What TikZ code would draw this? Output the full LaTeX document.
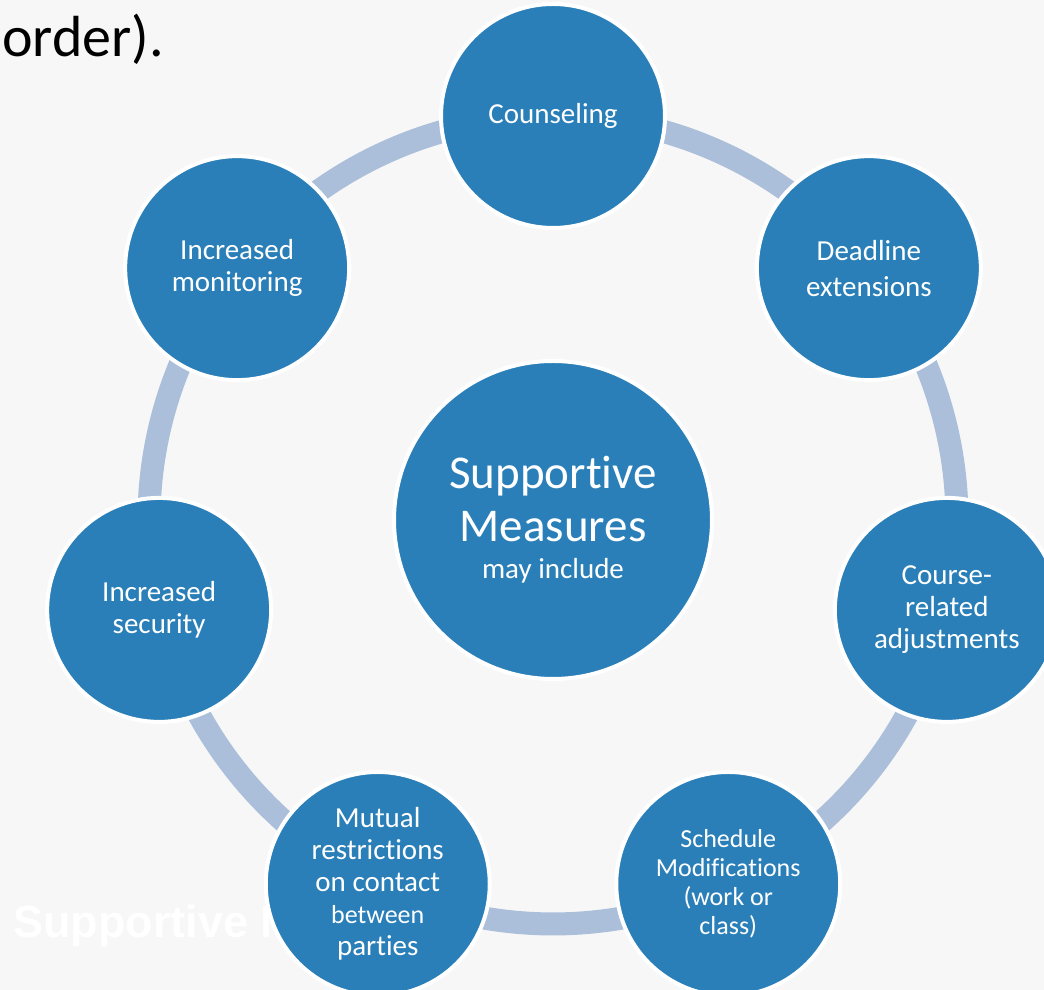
\documentclass[tikz,border=0pt]{standalone}
\usepackage{fontspec}
\setmainfont{Carlito}[Ligatures=NoCommon]
\newfontfamily\ghostfont{Liberation Sans}
\usetikzlibrary{calc}

\definecolor{measureblue}{HTML}{2A7FB8}
\definecolor{ringblue}{HTML}{ABBFDA}
\definecolor{slidegray}{HTML}{F7F7F7}

\newcommand{\smallline}{\fontsize{26}{30}\selectfont}
\newcommand{\nolig}{\kern0pt}

\pgfdeclarelayer{background}
\pgfsetlayers{background,main}

\tikzset{
  measure/.style={circle, fill=measureblue, draw=white, line width=4pt,
    minimum size=224pt, inner sep=0pt, text=white, align=center,
    font=\fontsize{29}{34}\selectfont},
  hub/.style={measure, minimum size=318pt, font=\fontsize{47}{53}\selectfont},
  ring/.style={ringblue, line width=23pt},
}

\begin{document}
\begin{tikzpicture}[x=1pt,y=1pt]
    \useasboundingbox (0,0) rectangle (1044,990);
    \clip (0,0) rectangle (1044,990);

    % slide text left behind the diagram
    \node[anchor=base west, inner sep=0pt, font=\fontsize{58}{60}\selectfont] (ord) at (2,933) {order).};
    \node[anchor=base west, inner sep=0pt, text=white, font=\ghostfont\bfseries\fontsize{45}{50}\selectfont] (ghost) at (13,52) {Supportive Measures};

    % centre
    \node[hub] (hub) at (553,470) {Suppor\nolig tive\\Measures\\[-16pt]\fontsize{29}{33}\selectfont may include};

    % measures round the ring
    \node[measure] (couns) at ($(hub)+(90:404)$) {Counseling};
    \node[measure, font=\fontsize{29}{36}\selectfont] (deadl) at ($(hub)+(38.57:404)$) {Deadline\\extensions};
    \node[measure, font=\fontsize{29}{32}\selectfont] (course) at ($(hub)+(-12.86:404)$) {Course-\\related\\adjustments};
    \node[measure, font=\fontsize{26}{29}\selectfont] (sched) at ($(hub)+(-64.29:404)$) {Schedule\\Modi\nolig f\nolig ications\\(work or\\class)};
    \node[measure, font=\fontsize{29}{32}\selectfont] (mutual) at ($(hub)+(-115.71:404)$) {Mutual\\restrictions\\on contact\\\smallline between\\parties};
    \node[measure, font=\fontsize{29}{32}\selectfont] (secur) at ($(hub)+(-167.14:404)$) {Increased\\security};
    \node[measure, font=\fontsize{29}{32}\selectfont] (monit) at ($(hub)+(141.43:404)$) {Increased\\monitoring};

    % ring arcs from one measure to the next
    \begin{pgfonlayer}{background}
    \fill[slidegray] (0,0) rectangle (1044,990);
    \foreach \from/\ang in {couns/90, deadl/38.57, course/-12.86, sched/-64.29, mutual/-115.71, secur/-167.14, monit/141.43}
        \draw[ring] (\from.center) arc[start angle=\ang, delta angle=-51.43, radius=404];
    \end{pgfonlayer}
\end{tikzpicture}
\end{document}
